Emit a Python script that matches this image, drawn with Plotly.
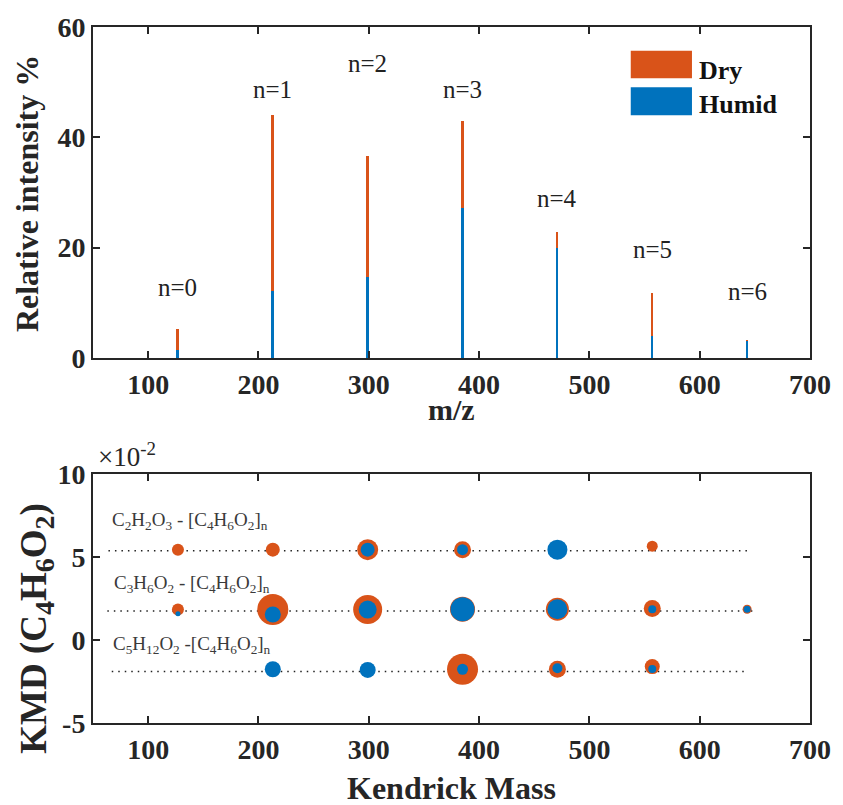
import plotly.graph_objects as go

# ---------------- data ----------------
mz = [127, 213, 299, 385, 471, 557, 643]
n_labels = ["n=0", "n=1", "n=2", "n=3", "n=4", "n=5", "n=6"]
n_label_y = [12.7, 48.7, 53.4, 48.7, 29.0, 19.6, 12.0]
dry_intensity = [5.3, 44.0, 36.6, 43.0, 22.8, 11.8, 3.2]
humid_intensity = [1.5, 12.1, 14.7, 27.2, 20.0, 4.0, 3.0]

# Kendrick plot (KMD values, true units)
dry_km = [127, 213, 299, 385, 557,
          127, 213, 299, 385, 471, 557, 643,
          385, 471, 557]
dry_kmd = [0.0545, 0.0545, 0.0545, 0.0545, 0.0566,
           0.0184, 0.0184, 0.0184, 0.0186, 0.0186, 0.019, 0.0186,
           -0.0176, -0.0176, -0.016]
dry_abund = [12, 14, 21, 17, 11,
             12, 31, 29, 25, 23, 17, 9,
             31, 17, 15]

humid_km = [299, 385, 471,
            127, 213, 299, 385, 471, 557, 643,
            213, 299, 385, 471, 557]
humid_kmd = [0.0545, 0.0545, 0.0545,
             0.0158, 0.0154, 0.0184, 0.0186, 0.0186, 0.0186, 0.0186,
             -0.0176, -0.018, -0.0176, -0.017, -0.0174]
humid_abund = [14, 11, 20,
               5, 16, 18, 24, 20, 8, 7,
               16, 16, 11, 10, 8]

series_kmd = [0.0538, 0.0175, -0.019]
series_start = [64, 63, 67]
series_end = [646, 650, 643]
series_names = [
    "C<sub>2</sub>H<sub>2</sub>O<sub>3</sub> - [C<sub>4</sub>H<sub>6</sub>O<sub>2</sub>]<sub>n</sub>",
    "C<sub>3</sub>H<sub>6</sub>O<sub>2</sub> - [C<sub>4</sub>H<sub>6</sub>O<sub>2</sub>]<sub>n</sub>",
    "C<sub>5</sub>H<sub>12</sub>O<sub>2</sub> -[C<sub>4</sub>H<sub>6</sub>O<sub>2</sub>]<sub>n</sub>",
]
series_label_kmd = [0.072, 0.034, -0.003]
series_label_x = [65, 67, 66]

ORANGE = "#D95319"
BLUE = "#0072BD"
AX = "#262626"
FONT = "Liberation Serif"

fig = go.Figure()

# ---------------- top: spectrum ----------------
fig.add_trace(go.Bar(x=mz, y=dry_intensity, width=1.8, marker=dict(color=ORANGE, line=dict(width=0)),
                     name="Dry", xaxis="x", yaxis="y", showlegend=False))
fig.add_trace(go.Bar(x=mz, y=humid_intensity, width=1.8, marker=dict(color=BLUE, line=dict(width=0)),
                     name="Humid", xaxis="x", yaxis="y", showlegend=False))

# ---------------- bottom: KMD ----------------
for i in range(len(series_kmd)):
    fig.add_trace(go.Scatter(x=[series_start[i], series_end[i]], y=[series_kmd[i]] * 2,
                             mode="lines", line=dict(color="#222222", width=1.5, dash="1.5px,5px"),
                             xaxis="x2", yaxis="y2", showlegend=False, hoverinfo="skip"))

fig.add_trace(go.Scatter(x=dry_km, y=dry_kmd, mode="markers",
                         marker=dict(color=ORANGE, size=dry_abund, sizemode="diameter", line=dict(width=0), opacity=1),
                         xaxis="x2", yaxis="y2", showlegend=False))
fig.add_trace(go.Scatter(x=humid_km, y=humid_kmd, mode="markers",
                         marker=dict(color=BLUE, size=humid_abund, sizemode="diameter", line=dict(width=0), opacity=1),
                         xaxis="x2", yaxis="y2", showlegend=False))

axis_common = dict(showline=True, mirror="ticks", linecolor=AX, linewidth=2,
                   ticks="inside", ticklen=7, tickwidth=2, tickcolor=AX,
                   showgrid=False, zeroline=False,
                   tickfont=dict(family=FONT, size=28, color=AX, weight="bold"))

annotations = []
for lbl, xv, yv in zip(n_labels, mz, n_label_y):
    annotations.append(dict(x=xv, y=yv, xref="x", yref="y", text=lbl, showarrow=False,
                            xanchor="center", yanchor="middle",
                            font=dict(family=FONT, size=25, color="#222222")))
for txt, xv, yv in zip(series_names, series_label_x, series_label_kmd):
    annotations.append(dict(x=xv, y=yv, xref="x2", yref="y2", text=txt, showarrow=False,
                            xanchor="left", yanchor="middle",
                            font=dict(family=FONT, size=19, color="#3a3a3a")))

# legend (manual)
annotations += [
    dict(x=598, y=52.2, xref="x", yref="y", text="<b>Dry</b>", showarrow=False,
         xanchor="left", yanchor="middle",
         font=dict(family=FONT, size=26, color="#111111")),
    dict(x=598, y=46.0, xref="x", yref="y", text="<b>Humid</b>", showarrow=False,
         xanchor="left", yanchor="middle",
         font=dict(family=FONT, size=26, color="#111111")),
]

SUB = '<sub><span style="font-size:28px">{}</span></sub>'
kmd_title = "<b>KMD (C" + SUB.format("4") + "H" + SUB.format("6") + "O" + SUB.format("2") + ")</b>"

# axis titles
annotations += [
    dict(x=-0.091, y=0.761, xref="paper", yref="paper", text="<b>Relative intensity %</b>", textangle=-90,
         xanchor="center", yanchor="middle",
         showarrow=False, font=dict(family=FONT, size=32, color=AX)),
    dict(x=0.5, y=0.451, xref="paper", yref="paper", text="<b>m/z</b>",
         xanchor="center", yanchor="middle",
         showarrow=False, font=dict(family=FONT, size=30, color=AX)),
    dict(x=0.5, y=-0.093, xref="paper", yref="paper", text="<b>Kendrick Mass</b>",
         xanchor="center", yanchor="middle",
         showarrow=False, font=dict(family=FONT, size=32, color=AX)),
    dict(x=-0.079, y=0.136, xref="paper", yref="paper",
         text=kmd_title, textangle=-90,
         xanchor="center", yanchor="middle",
         showarrow=False, font=dict(family=FONT, size=37, color=AX)),
    dict(x=0.004, y=0.385, xref="paper", yref="paper", text="×10<sup>-2</sup>",
         xanchor="left", yanchor="middle",
         showarrow=False, font=dict(family=FONT, size=27, color=AX)),
]

shapes = [
    dict(type="rect", xref="x", yref="y", x0=537.5, x1=593, y0=50.7, y1=55.7,
         fillcolor=ORANGE, line=dict(width=0)),
    dict(type="rect", xref="x", yref="y", x0=537.5, x1=593, y0=44.0, y1=49.1,
         fillcolor=BLUE, line=dict(width=0)),
]

fig.update_layout(
    width=843, height=805,
    margin=dict(l=93, r=24, t=25, b=82),
    paper_bgcolor="white", plot_bgcolor="white",
    barmode="overlay", bargap=0,
    showlegend=False,
    xaxis=dict(domain=[0, 1], range=[50, 700], tickvals=[100, 200, 300, 400, 500, 600, 700],
               anchor="y", **axis_common),
    yaxis=dict(domain=[0.5244, 1], range=[0, 60], tickvals=[0, 20, 40, 60], anchor="x", **axis_common),
    xaxis2=dict(domain=[0, 1], range=[50, 700], tickvals=[100, 200, 300, 400, 500, 600, 700],
                anchor="y2", **axis_common),
    yaxis2=dict(domain=[0, 0.3575], range=[-0.05, 0.10], tickvals=[-0.05, 0, 0.05, 0.10],
                ticktext=["-5", "0", "5", "10"], anchor="x2", **axis_common),
    annotations=annotations,
    shapes=shapes,
)

fig.write_html("out.html")
